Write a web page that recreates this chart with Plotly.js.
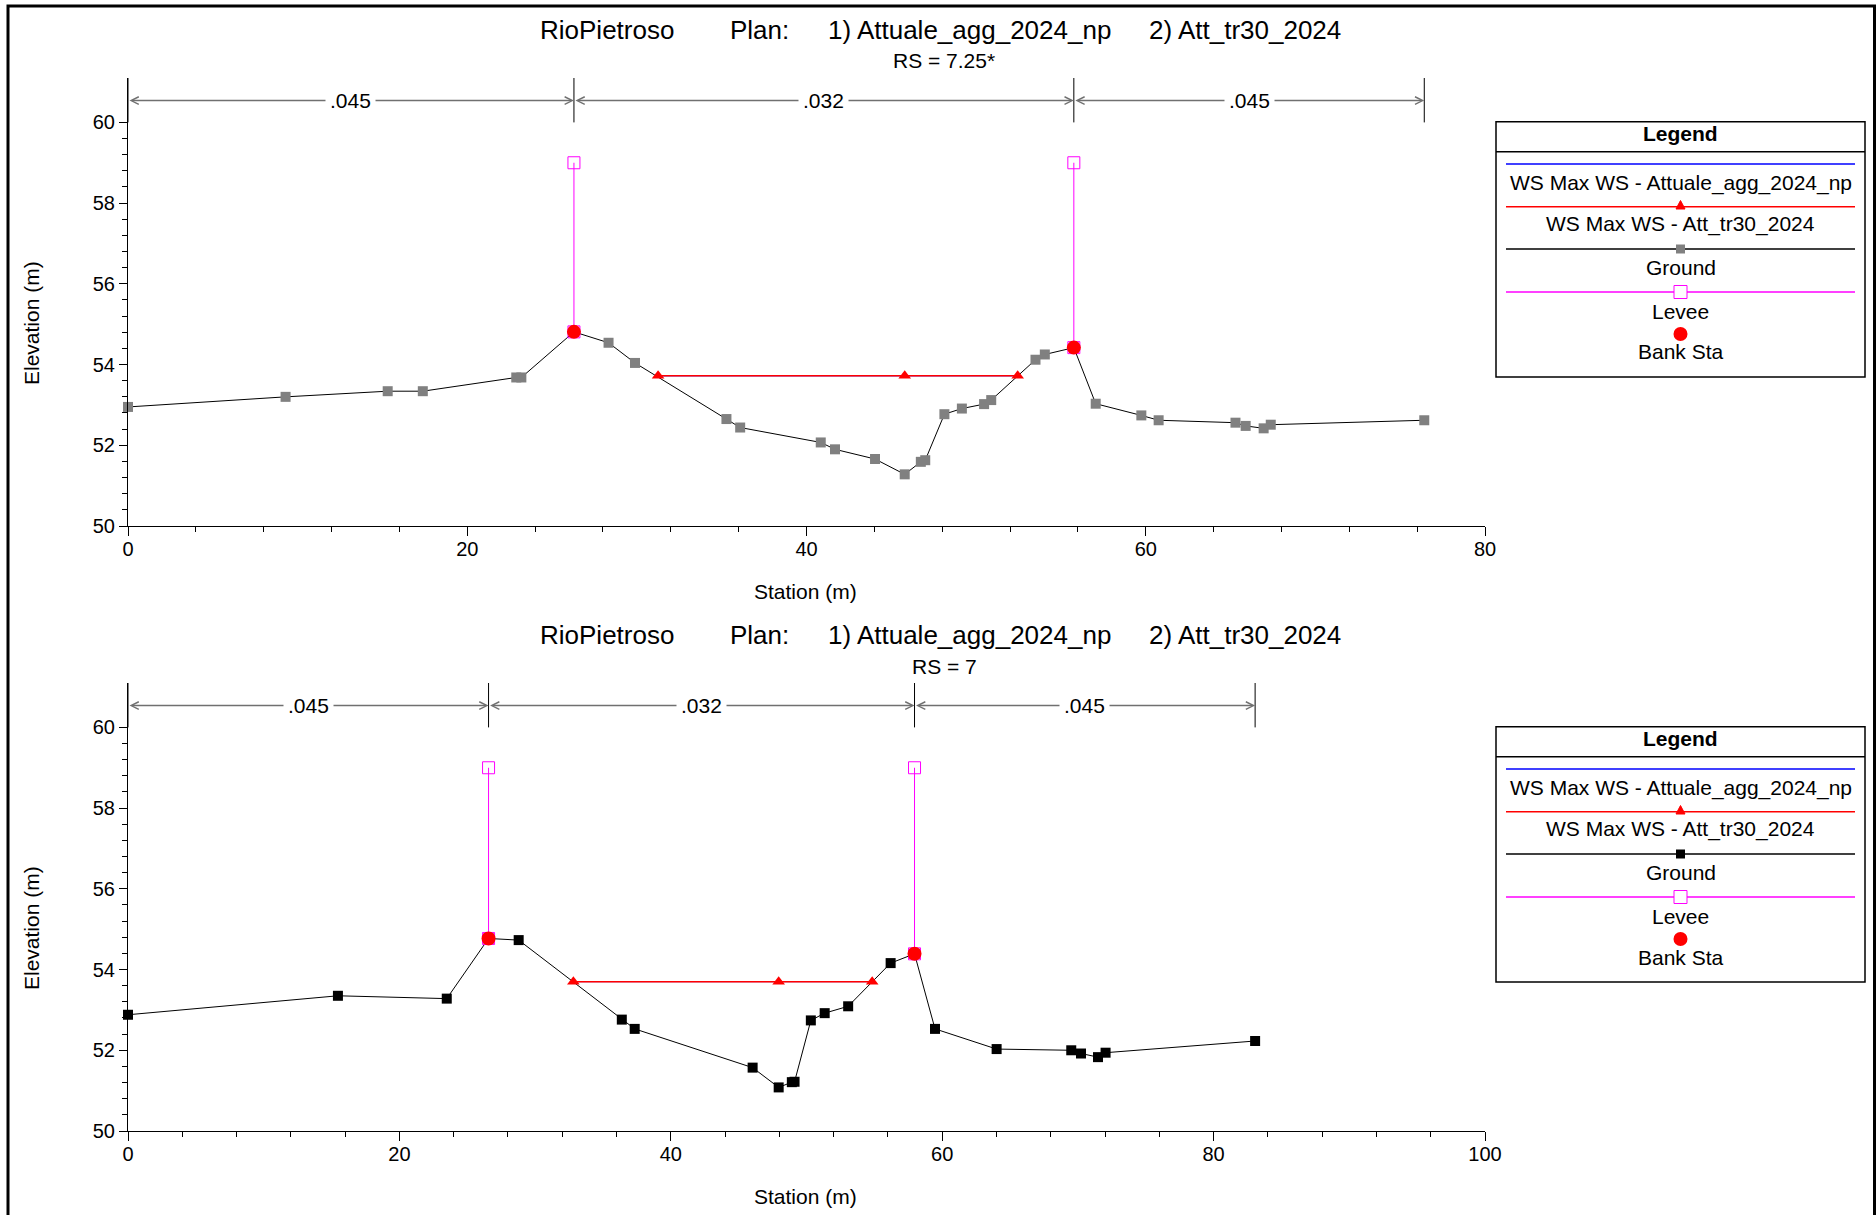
<!DOCTYPE html>
<html><head><meta charset="utf-8">
<script src="https://cdn.plot.ly/plotly-3.0.1.min.js"></script>
<style>html,body{margin:0;padding:0;background:#fff;}#chart{width:1876px;height:1215px;}</style>
</head><body><div id="chart"></div>
<script>
// ---------------- data ----------------
const planTitle = ['RioPietroso', 'Plan:', '1) Attuale_agg_2024_np', '2) Att_tr30_2024'];
const rsLabels = ['RS = 7.25*', 'RS = 7'];
const xAxisTitle = 'Station (m)';
const yAxisTitle = 'Elevation (m)';

// RS = 7.25* (interpolated section)
const groundStaTop  = [0, 9.29, 15.31, 17.38, 22.89, 23.19, 26.29, 28.33, 29.89, 35.28, 36.09, 40.84, 41.68, 44.04, 45.79, 46.74, 47.0, 48.13, 49.16, 50.47, 50.89, 53.5, 54.05, 55.76, 57.05, 59.74, 60.76, 65.29, 65.89, 66.95, 67.37, 76.42];
const groundElevTop = [52.95, 53.20, 53.34, 53.34, 53.68, 53.68, 54.81, 54.54, 54.04, 52.65, 52.44, 52.07, 51.90, 51.66, 51.28, 51.59, 51.63, 52.77, 52.91, 53.02, 53.12, 54.12, 54.25, 54.42, 53.03, 52.74, 52.62, 52.56, 52.48, 52.42, 52.51, 52.62];
const wsStaTop  = [31.25, 45.79, 52.45];
const wsElevTop = [53.72, 53.72, 53.72];
const bankStaTop  = [26.29, 55.76];
const bankElevTop = [54.81, 54.42];
const leveeElevTop = [59.0, 59.0];
const nBreaksTop = [0, 26.29, 55.76, 76.42];
const nValuesTop = ['.045', '.032', '.045'];

// RS = 7
const groundStaBot  = [0, 15.47, 23.49, 26.57, 28.79, 36.39, 37.34, 46.03, 47.95, 48.92, 49.12, 50.32, 51.34, 53.07, 56.2, 57.96, 59.47, 64.01, 69.51, 70.23, 71.48, 72.04, 83.06];
const groundElevBot = [52.88, 53.35, 53.28, 54.77, 54.73, 52.76, 52.53, 51.57, 51.08, 51.21, 51.22, 52.74, 52.92, 53.09, 54.16, 54.39, 52.53, 52.03, 52.00, 51.92, 51.83, 51.94, 52.23];
const wsStaBot  = [32.82, 47.95, 54.84];
const wsElevBot = [53.70, 53.70, 53.70];
const bankStaBot  = [26.57, 57.96];
const bankElevBot = [54.77, 54.39];
const leveeElevBot = [59.0, 59.0];
const nBreaksBot = [0, 26.57, 57.96, 83.06];
const nValuesBot = ['.045', '.032', '.045'];

const legendTitle = 'Legend';
const legendNames = ['WS Max WS - Attuale_agg_2024_np', 'WS Max WS - Att_tr30_2024', 'Ground', 'Levee', 'Bank Sta'];

// ---------------- build ----------------
const W = 1876, H = 1215;
const px = x => x / W, py = y => 1 - y / H;
const FONT = '"Liberation Sans", Arial, Helvetica, sans-serif';
const BLUE = '#0000FF', RED = '#FF0000', MAG = '#FF00FF', GRAY_N = '#707070';
const NY = 60.54, YTOP = 61.1;

const panels = [
  {dy: 0, xmax: 80, gx: groundStaTop, gy: groundElevTop, wx: wsStaTop, wy: wsElevTop, bx: bankStaTop, by: bankElevTop, ly: leveeElevTop, nb: nBreaksTop, nv: nValuesTop, gcol: '#808080', rs: rsLabels[0]},
  {dy: 605, xmax: 100, gx: groundStaBot, gy: groundElevBot, wx: wsStaBot, wy: wsElevBot, bx: bankStaBot, by: bankElevBot, ly: leveeElevBot, nb: nBreaksBot, nv: nValuesBot, gcol: '#000000', rs: rsLabels[1]}
];

const majorY = [], minorY = [];
for (let v = 50; v <= 60.001; v += 2) majorY.push(+v.toFixed(2));
for (let k = 0; k <= 25; k++) minorY.push(+(50 + k * 0.4).toFixed(2));

const traces = [], shapes = [], annotations = [];
const layout = {
  width: W, height: H, margin: {l: 0, r: 0, t: 0, b: 0},
  paper_bgcolor: '#fff', plot_bgcolor: '#fff', showlegend: false,
  font: {family: FONT, color: '#000'}
};

panels.forEach((p, i) => {
  const s = i === 0 ? '' : '2';
  const xr = 'x' + s, yr = 'y' + s;
  layout['xaxis' + s] = {
    domain: [px(128), px(1485)], anchor: yr, range: [0, p.xmax], tick0: 0, dtick: 20,
    ticks: 'outside', ticklen: 9, tickwidth: 1, tickcolor: '#000', ticklabelstandoff: -4,
    showline: true, linecolor: '#000', linewidth: 1, showgrid: false, zeroline: false,
    tickfont: {size: 20, family: FONT, color: '#000'},
    minor: {tick0: 0, dtick: 4, ticks: 'outside', ticklen: 5, tickwidth: 1, tickcolor: '#000', showgrid: false},
    fixedrange: true
  };
  layout['yaxis' + s] = {
    domain: [py(526 + p.dy), py(78 + p.dy)], anchor: xr, range: [50, YTOP],
    tickmode: 'array', tickvals: majorY,
    ticks: 'outside', ticklen: 8, tickwidth: 1, tickcolor: '#000',
    showline: true, linecolor: '#000', linewidth: 1, showgrid: false, zeroline: false,
    tickfont: {size: 20, family: FONT, color: '#000'},
    minor: {tickmode: 'array', tickvals: minorY, ticks: 'outside', ticklen: 5, tickwidth: 1, tickcolor: '#000', showgrid: false},
    fixedrange: true
  };

  // ground
  traces.push({x: p.gx, y: p.gy, xaxis: xr, yaxis: yr, mode: 'lines+markers', cliponaxis: false,
    line: {color: '#000', width: 1}, marker: {symbol: 'square', size: 10, color: p.gcol}});
  // levees
  const lx = [], lyy = [];
  p.bx.forEach((b, k) => { lx.push(b, b, null); lyy.push(p.by[k], p.ly[k], null); });
  traces.push({x: lx, y: lyy, xaxis: xr, yaxis: yr, mode: 'lines+markers', cliponaxis: false,
    line: {color: MAG, width: 1}, marker: {symbol: 'square-open', size: 12, color: MAG, line: {width: 1, color: MAG}}});
  // WS plan 1 (blue) under WS plan 2 (red)
  traces.push({x: p.wx, y: p.wy, xaxis: xr, yaxis: yr, mode: 'lines', cliponaxis: false,
    line: {color: BLUE, width: 1}});
  traces.push({x: p.wx, y: p.wy, xaxis: xr, yaxis: yr, mode: 'lines+markers', cliponaxis: false,
    line: {color: RED, width: 1.5}, marker: {symbol: 'triangle-up', size: 11, color: RED}});
  // bank stations
  traces.push({x: p.bx, y: p.by, xaxis: xr, yaxis: yr, mode: 'markers', cliponaxis: false,
    marker: {symbol: 'circle', size: 14, color: RED}});

  // Manning's n separators, arrows, labels
  p.nb.forEach(b => {
    shapes.push({type: 'line', xref: xr, yref: yr, x0: b, x1: b, y0: 60.0, y1: YTOP, line: {color: '#000', width: 1}});
  });
  for (let k = 0; k < p.nv.length; k++) {
    annotations.push({xref: xr, yref: yr, x: p.nb[k + 1], y: NY, ax: p.nb[k], ay: NY, axref: xr, ayref: yr,
      text: '', showarrow: true, arrowside: 'end+start', arrowhead: 5, startarrowhead: 5,
      arrowsize: 1, startarrowsize: 1, arrowwidth: 1.5, arrowcolor: GRAY_N, standoff: 0, startstandoff: 0});
  }
  for (let k = 0; k < p.nv.length; k++) {
    annotations.push({xref: xr, yref: yr, x: (p.nb[k] + p.nb[k + 1]) / 2, y: NY, text: p.nv[k], showarrow: false,
      bgcolor: '#fff', borderpad: 4, font: {size: 21, family: FONT, color: '#000'}, xanchor: 'center', yanchor: 'middle'});
  }

  // titles
  const tx = [538, 728, 826, 1147];
  planTitle.forEach((t, k) => annotations.push({xref: 'paper', yref: 'paper', x: px(tx[k]), y: py(30 + p.dy), text: t,
    showarrow: false, xanchor: 'left', yanchor: 'middle', font: {size: 26, family: FONT, color: '#000'}}));
  annotations.push({xref: 'paper', yref: 'paper', x: px(944), y: py(61 + p.dy), text: p.rs, showarrow: false,
    xanchor: 'center', yanchor: 'middle', font: {size: 21, family: FONT, color: '#000'}});
  annotations.push({xref: 'paper', yref: 'paper', x: px(805.5), y: py(591 + p.dy), text: xAxisTitle, showarrow: false,
    xanchor: 'center', yanchor: 'middle', font: {size: 21, family: FONT, color: '#000'}});
  annotations.push({xref: 'paper', yref: 'paper', x: px(31), y: py(323 + p.dy), text: yAxisTitle, showarrow: false,
    textangle: -90, xanchor: 'center', yanchor: 'middle', font: {size: 21, family: FONT, color: '#000'}});

  // custom legend box
  const d = p.dy, L = 1496, R = 1865, CX = 1680.5;
  shapes.push({type: 'rect', xref: 'paper', yref: 'paper', x0: px(L), x1: px(R), y0: py(121.7 + d), y1: py(377 + d), line: {color: '#000', width: 1.5}, fillcolor: 'rgba(0,0,0,0)'});
  shapes.push({type: 'line', xref: 'paper', yref: 'paper', x0: px(L), x1: px(R), y0: py(151.7 + d), y1: py(151.7 + d), line: {color: '#000', width: 1.5}});
  annotations.push({xref: 'paper', yref: 'paper', x: px(CX), y: py(133 + d), text: '<b>' + legendTitle + '</b>', showarrow: false,
    xanchor: 'center', yanchor: 'middle', font: {size: 21, family: FONT, color: '#000'}});
  const lineY = [164, 206.7, 249, 292, null];
  const lineC = [BLUE, RED, '#000', MAG, null];
  const textY = [183, 224, 267, 311, 352];
  legendNames.forEach((n, k) => {
    if (lineY[k] !== null) shapes.push({type: 'line', xref: 'paper', yref: 'paper', x0: px(1506), x1: px(1855), y0: py(lineY[k] + d), y1: py(lineY[k] + d), line: {color: lineC[k], width: 1.5}});
    annotations.push({xref: 'paper', yref: 'paper', x: px(CX), y: py(textY[k] + d), text: n, showarrow: false,
      xanchor: 'center', yanchor: 'middle', font: {size: 21, family: FONT, color: '#000'}});
  });
  // legend markers
  const ty = 205 + d;
  shapes.push({type: 'path', xref: 'paper', yref: 'paper', path: `M ${px(CX - 4.5)} ${py(ty + 4)} L ${px(CX + 4.5)} ${py(ty + 4)} L ${px(CX)} ${py(ty - 4.5)} Z`, fillcolor: RED, line: {color: RED, width: 1}});
  shapes.push({type: 'rect', xref: 'paper', yref: 'paper', x0: px(CX - 4.5), x1: px(CX + 4.5), y0: py(249 + d + 4.5), y1: py(249 + d - 4.5), fillcolor: p.gcol, line: {width: 0}});
  shapes.push({type: 'rect', xref: 'paper', yref: 'paper', x0: px(CX - 6.5), x1: px(CX + 6.5), y0: py(292 + d + 6.5), y1: py(292 + d - 6.5), fillcolor: '#fff', line: {color: MAG, width: 1}});
  shapes.push({type: 'circle', xref: 'paper', yref: 'paper', x0: px(CX - 7), x1: px(CX + 7), y0: py(334 + d + 7), y1: py(334 + d - 7), fillcolor: RED, line: {color: RED, width: 0}});
});

// page frame
shapes.push({type: 'path', xref: 'paper', yref: 'paper',
  path: `M ${px(8)} ${py(1215)} L ${px(8)} ${py(6)} L ${px(1874.5)} ${py(6)} L ${px(1874.5)} ${py(1215)}`,
  line: {color: '#000', width: 3}});

layout.shapes = shapes;
layout.annotations = annotations;
Plotly.newPlot('chart', traces, layout, {staticPlot: true, displayModeBar: false});
</script></body></html>
